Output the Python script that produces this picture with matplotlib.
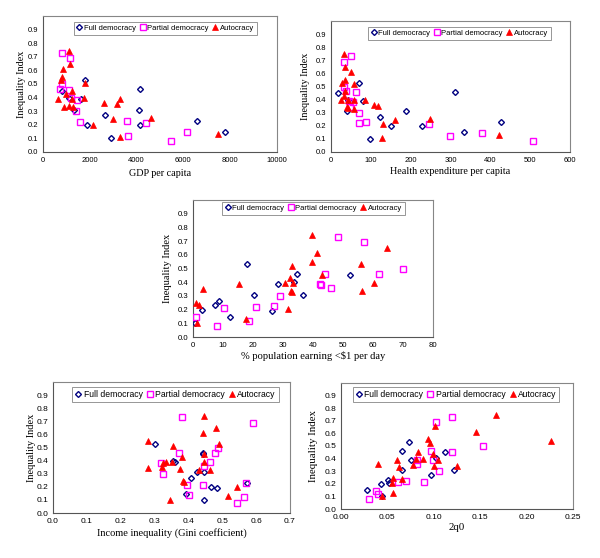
import matplotlib
matplotlib.use("Agg")
import matplotlib.pyplot as plt

# ---------------- data ----------------
# Panel 1: GDP per capita
fd_gdp = [826, 1097, 1311, 1638, 1781, 1880, 2664, 2892, 4088, 4145, 4160, 6567, 7778]
fd_gdp_ineq = [0.45, 0.40, 0.31, 0.39, 0.53, 0.20, 0.27, 0.10, 0.31, 0.46, 0.20, 0.23, 0.15]
pd_gdp = [826, 1140, 798, 741, 1097, 1182, 1467, 1396, 1567, 3590, 3647, 4402, 5484, 6140]
pd_gdp_ineq = [0.73, 0.69, 0.50, 0.46, 0.456, 0.40, 0.38, 0.30, 0.22, 0.23, 0.12, 0.21, 0.08, 0.15]
au_gdp = [655, 783, 826, 855, 897, 997, 1111, 1140, 1097, 1239, 1254, 1282, 1752, 1809,
          2123, 2607, 3006, 3148, 3305, 3276, 4601, 7479]
au_gdp_ineq = [0.39, 0.53, 0.55, 0.61, 0.33, 0.43, 0.74, 0.65, 0.34, 0.45, 0.39, 0.33, 0.40, 0.51,
               0.20, 0.36, 0.24, 0.35, 0.39, 0.11, 0.25, 0.13]

# Panel 2: Health expenditure per capita
fd_hlt = [17.6, 39, 42, 71, 81, 99, 124, 150, 188, 228, 311, 333, 428]
fd_hlt_ineq = [0.45, 0.31, 0.40, 0.53, 0.39, 0.10, 0.27, 0.20, 0.31, 0.20, 0.46, 0.15, 0.23]
pd_hlt = [49, 33.5, 33.5, 36.8, 64, 48, 45, 55, 69.5, 71, 87, 247, 299, 378, 508]
pd_hlt_ineq = [0.73, 0.69, 0.50, 0.466, 0.46, 0.345, 0.39, 0.38, 0.30, 0.22, 0.227, 0.21, 0.12, 0.146, 0.083]
au_hlt = [31.8, 35, 49, 28.5, 35, 57, 34, 33, 26, 43.5, 58, 85, 39, 43.5, 58, 109, 117, 130, 127,
          160, 248, 422]
au_hlt_ineq = [0.75, 0.65, 0.61, 0.53, 0.55, 0.52, 0.466, 0.43, 0.40, 0.40, 0.40, 0.40, 0.34, 0.335,
               0.33, 0.36, 0.35, 0.21, 0.11, 0.245, 0.25, 0.13]

# Panel 3: % population earning <$1 per day
fd_pov = [0.6, 3.0, 7.4, 8.6, 12.4, 18.1, 20.2, 26.4, 28.4, 33.8, 34.7, 36.7, 52.2]
fd_pov_ineq = [0.10, 0.20, 0.23, 0.265, 0.146, 0.53, 0.31, 0.19, 0.39, 0.405, 0.46, 0.31, 0.45]
pd_pov = [1.1, 8.0, 10.2, 18.8, 21.1, 26.9, 29.1, 42.4, 42.5, 43.9, 45.9, 48.4, 56.9, 62.0, 70.0]
pd_pov_ineq = [0.146, 0.08, 0.21, 0.12, 0.22, 0.227, 0.30, 0.39, 0.38, 0.46, 0.36, 0.73, 0.69, 0.46, 0.50]
au_pov = [1.0, 1.9, 1.3, 3.3, 15.2, 17.8, 31.6, 30.7, 32.2, 32.6, 32.9, 33.1, 33.3, 39.6, 39.7,
          41.3, 42.9, 55.9, 56.4, 60.2, 64.7]
au_pov_ineq = [0.245, 0.236, 0.10, 0.35, 0.39, 0.13, 0.205, 0.395, 0.43, 0.335, 0.33, 0.52, 0.395,
               0.745, 0.55, 0.61, 0.45, 0.53, 0.335, 0.395, 0.65]

# Panel 4: Income inequality (Gini coefficient)
fd_gini = [0.301, 0.355, 0.36, 0.392, 0.407, 0.424, 0.446, 0.446, 0.443, 0.444, 0.468, 0.483, 0.572]
fd_gini_ineq = [0.53, 0.40, 0.39, 0.146, 0.266, 0.31, 0.31, 0.10, 0.46, 0.45, 0.20, 0.19, 0.226]
pd_gini = [0.382, 0.59, 0.488, 0.478, 0.372, 0.465, 0.446, 0.318, 0.325, 0.397, 0.444, 0.401,
           0.565, 0.544, 0.569]
pd_gini_ineq = [0.73, 0.69, 0.50, 0.46, 0.46, 0.39, 0.36, 0.38, 0.30, 0.216, 0.21, 0.14, 0.12,
                0.075, 0.226]
au_gini = [0.281, 0.281, 0.446, 0.444, 0.481, 0.49, 0.355, 0.446, 0.382, 0.446, 0.325, 0.335,
           0.352, 0.323, 0.376, 0.431, 0.464, 0.385, 0.388, 0.345, 0.544, 0.516]
au_gini_ineq = [0.55, 0.34, 0.74, 0.61, 0.65, 0.53, 0.51, 0.45, 0.43, 0.39, 0.385, 0.39, 0.39,
                0.35, 0.334, 0.327, 0.33, 0.246, 0.24, 0.10, 0.20, 0.13]

# Panel 5: 2q0
fd_q = [0.0285, 0.043, 0.0509, 0.052, 0.0653, 0.0657, 0.0736, 0.0755, 0.0971, 0.1025, 0.1116,
        0.1217, 0.0437]
fd_q_ineq = [0.15, 0.198, 0.234, 0.203, 0.31, 0.463, 0.533, 0.39, 0.268, 0.406, 0.45, 0.31, 0.10]
pd_q = [0.0307, 0.0375, 0.0394, 0.061, 0.070, 0.0899, 0.0816, 0.0816, 0.0971, 0.0986, 0.1061,
        0.1022, 0.1195, 0.1195, 0.153]
pd_q_ineq = [0.078, 0.146, 0.12, 0.213, 0.226, 0.218, 0.385, 0.354, 0.463, 0.39, 0.30, 0.69,
             0.73, 0.455, 0.50]
au_q = [0.0404, 0.0437, 0.0556, 0.0563, 0.0545, 0.0606, 0.0625, 0.0657, 0.0773, 0.0805, 0.0827,
        0.0888, 0.0935, 0.096, 0.0986, 0.1014, 0.1, 0.1043, 0.1249, 0.1458, 0.1675, 0.226]
au_q_ineq = [0.36, 0.104, 0.13, 0.247, 0.203, 0.39, 0.333, 0.242, 0.346, 0.393, 0.455, 0.398,
             0.554, 0.52, 0.437, 0.658, 0.338, 0.39, 0.338, 0.614, 0.749, 0.536]

series_names = ["Full democracy", "Partial democracy", "Autocracy"]
y_ticks = [0.0, 0.1, 0.2, 0.3, 0.4, 0.5, 0.6, 0.7, 0.8, 0.9]

# ---------------- drawing ----------------
W, H = 600, 558
fig = plt.figure(figsize=(W / 100, H / 100), dpi=100)

SANS = ["Liberation Sans", "DejaVu Sans"]
SERIF = ["Liberation Serif", "DejaVu Serif"]
GRAY = "#868686"


def rect(l, r, t, b):
    return [l / W, 1 - b / H, (r - l) / W, (b - t) / H]


def panel(box, data, xlim, xticks, xfmt, xlabel, leg_anchor, fs_tick, fs_leg, fs_lab,
          xlab_off, ylab_off):
    ax = fig.add_axes(rect(*box))
    (fx, fy), (px, py), (ax_, ay) = data
    ax.plot(fx, fy, linestyle="none", marker="D", markersize=3.0, markerfacecolor="none",
            markeredgecolor="#000080", markeredgewidth=1.0, label=series_names[0], zorder=3)
    ax.plot(px, py, linestyle="none", marker="s", markersize=4.6, markerfacecolor="none",
            markeredgecolor="#FF00FF", markeredgewidth=1.0, label=series_names[1], zorder=3)
    ax.plot(ax_, ay, linestyle="none", marker="^", markersize=5.0, markerfacecolor="#FF0000",
            markeredgecolor="#FF0000", markeredgewidth=0.5, label=series_names[2], zorder=4)
    ax.set_xlim(*xlim)
    ax.set_ylim(0, 1.0)
    ax.set_xticks(xticks)
    ax.set_xticklabels([xfmt.format(v) for v in xticks], family=SANS, fontsize=fs_tick)
    ax.set_yticks(y_ticks)
    ax.set_yticklabels(["{:.1f}".format(v) for v in y_ticks], family=SANS, fontsize=fs_tick)
    for s in ax.spines.values():
        s.set_color(GRAY)
        s.set_linewidth(0.8)
    ax.spines["left"].set_color("#555555")
    ax.spines["bottom"].set_color("#555555")
    ax.tick_params(direction="out", length=0, width=0.6, color=GRAY, pad=3.5)
    ax.set_xlabel(xlabel, family=SERIF, fontsize=fs_lab)
    ax.set_ylabel("Inequality Index", family=SERIF, fontsize=fs_lab)
    hgt = box[3] - box[2]
    wid = box[1] - box[0]
    ax.xaxis.set_label_coords(0.5, -xlab_off / hgt)
    ax.xaxis.label.set_va("center")
    ax.yaxis.set_label_coords(-ylab_off / wid, 0.5)
    ax.yaxis.label.set_va("center")
    leg = ax.legend(loc="upper center", bbox_to_anchor=leg_anchor, ncol=3,
                    prop={"family": SANS, "size": fs_leg}, frameon=True, fancybox=False,
                    framealpha=1, edgecolor=GRAY, handlelength=0.7, handletextpad=0.25,
                    columnspacing=0.5, borderpad=0.35, borderaxespad=0.0)
    leg.get_frame().set_linewidth(0.6)
    return ax


panel((43, 277, 16, 152),
      [(fd_gdp, fd_gdp_ineq), (pd_gdp, pd_gdp_ineq), (au_gdp, au_gdp_ineq)],
      (0, 10000), [0, 2000, 4000, 6000, 8000, 10000], "{:d}", "GDP per capita",
      (0.523, 0.956), 5.5, 5.5, 7.3, 21, 22)

panel((331, 570, 21, 152),
      [(fd_hlt, fd_hlt_ineq), (pd_hlt, pd_hlt_ineq), (au_hlt, au_hlt_ineq)],
      (0, 600), [0, 100, 200, 300, 400, 500, 600], "{:d}", "Health expenditure per capita",
      (0.538, 0.954), 5.5, 5.5, 7.3, 20, 25)

panel((193, 433, 200, 337),
      [(fd_pov, fd_pov_ineq), (pd_pov, pd_pov_ineq), (au_pov, au_pov_ineq)],
      (0, 80), [0, 10, 20, 30, 40, 50, 60, 70, 80], "{:d}",
      "% population earning <\\$1 per day",
      (0.502, 0.985), 5.6, 5.5, 7.6, 19, 25)

panel((53, 290, 382, 513),
      [(fd_gini, fd_gini_ineq), (pd_gini, pd_gini_ineq), (au_gini, au_gini_ineq)],
      (0, 0.7), [0.0, 0.1, 0.2, 0.3, 0.4, 0.5, 0.6, 0.7], "{:.1f}",
      "Income inequality (Gini coefficient)",
      (0.517, 0.962), 6.0, 6.2, 7.5, 20, 22)

panel((341, 573, 383, 509),
      [(fd_q, fd_q_ineq), (pd_q, pd_q_ineq), (au_q, au_q_ineq)],
      (0, 0.25), [0.0, 0.05, 0.10, 0.15, 0.20, 0.25], "{:.2f}", "2q0",
      (0.496, 0.968), 6.0, 6.2, 7.8, 18, 28)

fig.savefig("out.png", dpi=100, facecolor="white")
